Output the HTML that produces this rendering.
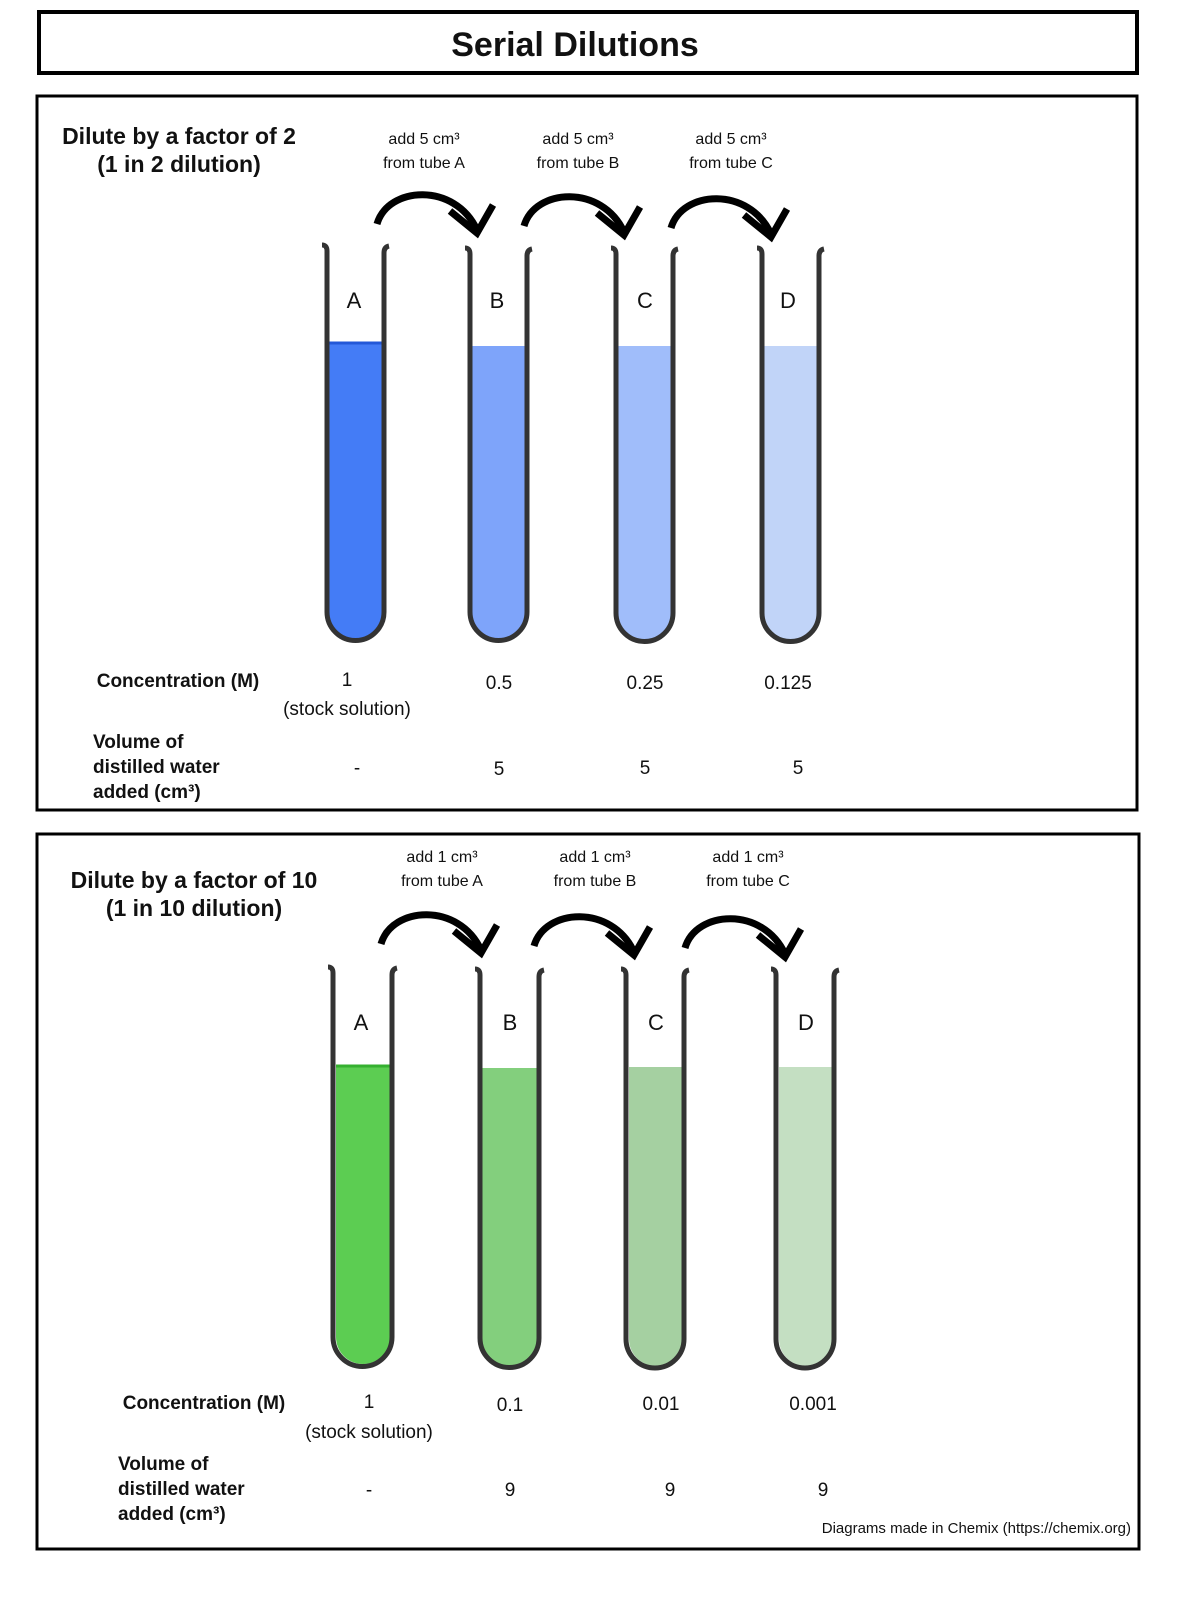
<!DOCTYPE html>
<html><head><meta charset="utf-8"><style>
body{margin:0;background:#fff;width:1200px;height:1600px;overflow:hidden}
svg{display:block}
text{font-family:"Liberation Sans",Arial,sans-serif;fill:#111}
</style></head><body>
<svg width="1200" height="1600" viewBox="0 0 1200 1600">
<rect x="39" y="12" width="1098" height="61" fill="none" stroke="#000" stroke-width="4"/>
<text x="575" y="56" font-size="34" font-weight="bold" text-anchor="middle">Serial Dilutions</text>
<rect x="37" y="96" width="1100" height="714" fill="none" stroke="#000" stroke-width="3"/>
<rect x="37" y="834" width="1102" height="715" fill="none" stroke="#000" stroke-width="3"/>

<defs>
<g id="arrow">
<path d="M4,6 C15,-32 82,-36 104,12" fill="none" stroke="#000" stroke-width="7"/>
<path d="M77,-7 L104,15 L120,-13" fill="none" stroke="#000" stroke-width="7"/>
</g>
</defs>

<!-- Panel 1 -->
<text x="179" y="144" font-size="23" font-weight="bold" text-anchor="middle">Dilute by a factor of 2</text>
<text x="179" y="172" font-size="23" font-weight="bold" text-anchor="middle">(1 in 2 dilution)</text>
<g font-size="16" text-anchor="middle">
<text x="424" y="144">add 5 cm³</text><text x="424" y="168">from tube A</text>
<text x="578" y="144">add 5 cm³</text><text x="578" y="168">from tube B</text>
<text x="731" y="144">add 5 cm³</text><text x="731" y="168">from tube C</text>
</g>
<use href="#arrow" x="373" y="218"/>
<use href="#arrow" x="520" y="220"/>
<use href="#arrow" x="667" y="222"/>

<g stroke="#333" stroke-width="5">
<path d="M329,343 H384 V612 a27.5,27.5 0 0 1 -55,0 Z" fill="#447cf6" stroke="none"/>
<line x1="329" y1="343" x2="384" y2="343" stroke="#2358d8" stroke-width="3"/>
<path d="M322,245 q5,0 5,6 V612 a28.5,28.5 0 0 0 57,0 V253 q0,-6 5,-7" fill="none"/>
<path d="M472,346 H527 V612 a27.5,27.5 0 0 1 -55,0 Z" fill="#7ea4fa" stroke="none"/>
<path d="M465,248 q5,0 5,6 V612 a28.5,28.5 0 0 0 57,0 V256 q0,-6 5,-7" fill="none"/>
<path d="M618,346 H673 V613 a27.5,27.5 0 0 1 -55,0 Z" fill="#a0bdfa" stroke="none"/>
<path d="M611,248 q5,0 5,6 V613 a28.5,28.5 0 0 0 57,0 V256 q0,-6 5,-7" fill="none"/>
<path d="M764,346 H819 V613 a27.5,27.5 0 0 1 -55,0 Z" fill="#c1d4f8" stroke="none"/>
<path d="M757,248 q5,0 5,6 V613 a28.5,28.5 0 0 0 57,0 V256 q0,-6 5,-7" fill="none"/>
</g>
<g font-size="22" text-anchor="middle">
<text x="354" y="308">A</text><text x="497" y="308">B</text><text x="645" y="308">C</text><text x="788" y="308">D</text>
</g>
<text x="178" y="687" font-size="19" font-weight="bold" text-anchor="middle">Concentration (M)</text>
<g font-size="19" text-anchor="middle">
<text x="347" y="686">1</text><text x="347" y="715">(stock solution)</text>
<text x="499" y="689">0.5</text><text x="645" y="689">0.25</text><text x="788" y="689">0.125</text>
<text x="357" y="774">-</text><text x="499" y="775">5</text><text x="645" y="774">5</text><text x="798" y="774">5</text>
</g>
<g font-size="19" font-weight="bold">
<text x="93" y="748">Volume of</text><text x="93" y="773">distilled water</text><text x="93" y="798">added (cm³)</text>
</g>

<!-- Panel 2 -->
<text x="194" y="888" font-size="23" font-weight="bold" text-anchor="middle">Dilute by a factor of 10</text>
<text x="194" y="916" font-size="23" font-weight="bold" text-anchor="middle">(1 in 10 dilution)</text>
<g font-size="16" text-anchor="middle">
<text x="442" y="862">add 1 cm³</text><text x="442" y="886">from tube A</text>
<text x="595" y="862">add 1 cm³</text><text x="595" y="886">from tube B</text>
<text x="748" y="862">add 1 cm³</text><text x="748" y="886">from tube C</text>
</g>
<use href="#arrow" x="377" y="938"/>
<use href="#arrow" x="530" y="940"/>
<use href="#arrow" x="681" y="942"/>

<g stroke="#333" stroke-width="5">
<path d="M336,1066 H390 V1337 a27,27 0 0 1 -54,0 Z" fill="#5ccd52" stroke="none"/>
<line x1="336" y1="1066" x2="390" y2="1066" stroke="#35b030" stroke-width="3"/>
<path d="M328,967 q5,0 5,6 V1337 a29.5,29.5 0 0 0 59,0 V975 q0,-6 5,-7" fill="none"/>
<path d="M482,1068 H537 V1338 a27.5,27.5 0 0 1 -55,0 Z" fill="#83cf7d" stroke="none"/>
<path d="M475,969 q5,0 5,6 V1338 a29.5,29.5 0 0 0 59,0 V977 q0,-6 5,-7" fill="none"/>
<path d="M629,1067 H683 V1339 a27,27 0 0 1 -54,0 Z" fill="#a5d0a1" stroke="none"/>
<path d="M621,969 q5,0 5,6 V1339 a29,29 0 0 0 58,0 V977 q0,-6 5,-7" fill="none"/>
<path d="M779,1067 H833 V1339 a27,27 0 0 1 -54,0 Z" fill="#c4dfc2" stroke="none"/>
<path d="M771,969 q5,0 5,6 V1339 a29,29 0 0 0 58,0 V977 q0,-6 5,-7" fill="none"/>
</g>
<g font-size="22" text-anchor="middle">
<text x="361" y="1030">A</text><text x="510" y="1030">B</text><text x="656" y="1030">C</text><text x="806" y="1030">D</text>
</g>
<text x="204" y="1409" font-size="19" font-weight="bold" text-anchor="middle">Concentration (M)</text>
<g font-size="19" text-anchor="middle">
<text x="369" y="1408">1</text><text x="369" y="1438">(stock solution)</text>
<text x="510" y="1411">0.1</text><text x="661" y="1410">0.01</text><text x="813" y="1410">0.001</text>
<text x="369" y="1496">-</text><text x="510" y="1496">9</text><text x="670" y="1496">9</text><text x="823" y="1496">9</text>
</g>
<g font-size="19" font-weight="bold">
<text x="118" y="1470">Volume of</text><text x="118" y="1495">distilled water</text><text x="118" y="1520">added (cm³)</text>
</g>
<text x="1131" y="1533" font-size="15" text-anchor="end">Diagrams made in Chemix (https://chemix.org)</text>
</svg>
</body></html>
